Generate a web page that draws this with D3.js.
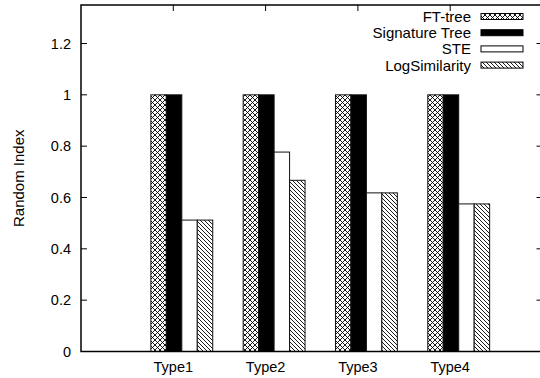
<!DOCTYPE html>
<html>
<head>
<meta charset="utf-8">
<script src="https://cdn.jsdelivr.net/npm/d3@7"></script>
<style>
  body { margin: 0; background: #fff; }
  svg { display: block; font-family: "Liberation Sans", Arial, sans-serif; }
</style>
</head>
<body>
<svg id="chart" width="540" height="378"></svg>
<script>
const categories = ['Type1', 'Type2', 'Type3', 'Type4'];
const series = ['FT-tree', 'Signature Tree', 'STE', 'LogSimilarity'];
const ftTree = [1, 1, 1, 1];
const signatureTree = [1, 1, 1, 1];
const ste = [0.512, 0.777, 0.618, 0.575];
const logSimilarity = [0.512, 0.667, 0.618, 0.575];
const yTicks = [0, 0.2, 0.4, 0.6, 0.8, 1, 1.2];

const values = [ftTree, signatureTree, ste, logSimilarity];

const svg = d3.select('#chart');
const pLeft = 81, pRight = 542.5, pTop = 5, pBottom = 351.5;

const x = d3.scaleLinear().domain([-1, 4]).range([pLeft, pRight]);
const y = d3.scaleLinear().domain([0, 1.35]).range([pBottom, pTop]);
// bar offsets inside a category, in x units
const inner = d3.scaleBand().domain(series).range([-0.243, -0.243 + 4 * 0.1676]);

// patterns
const defs = svg.append('defs');
const cross = defs.append('pattern').attr('id', 'cross')
  .attr('patternUnits', 'userSpaceOnUse').attr('width', 5).attr('height', 5);
cross.append('rect').attr('width', 5).attr('height', 5).attr('fill', '#fff');
cross.append('path').attr('d', 'M0,0L5,5M5,0L0,5M-1,4L1,6M4,-1L6,1M-1,1L1,-1M4,6L6,4')
  .attr('stroke', '#000').attr('stroke-width', 0.9);
const diag = defs.append('pattern').attr('id', 'diag')
  .attr('patternUnits', 'userSpaceOnUse').attr('width', 4).attr('height', 4);
diag.append('rect').attr('width', 4).attr('height', 4).attr('fill', '#fff');
diag.append('path').attr('d', 'M0,0L4,4M-1,3L1,5M3,-1L5,1')
  .attr('stroke', '#000').attr('stroke-width', 0.9);

const fills = ['url(#cross)', '#000', '#fff', 'url(#diag)'];

// bars
const barData = [];
categories.forEach((c, i) => {
  series.forEach((s, j) => barData.push({ i, s, j, v: values[j][i] }));
});
svg.append('g').selectAll('rect').data(barData).enter().append('rect')
  .attr('x', d => x(d.i + inner(d.s)))
  .attr('width', x(inner.bandwidth()) - x(0))
  .attr('y', d => y(d.v))
  .attr('height', d => y(0) - y(d.v))
  .attr('fill', d => fills[d.j])
  .attr('stroke', '#111').attr('stroke-width', 1);

// y ticks (left, and mirrored on right)
const yAxis = svg.append('g');
yTicks.forEach(t => {
  yAxis.append('line').attr('x1', pLeft).attr('x2', pLeft + 6)
    .attr('y1', y(t)).attr('y2', y(t)).attr('stroke', '#000');
  yAxis.append('line').attr('x1', pRight - 6).attr('x2', pRight)
    .attr('y1', y(t)).attr('y2', y(t)).attr('stroke', '#000');
  yAxis.append('text').attr('x', pLeft - 10).attr('y', y(t) + 5)
    .attr('text-anchor', 'end').attr('font-size', 14.5).text(d3.format('')(t));
});

// x ticks (top mirror) and labels
const xAxis = svg.append('g');
categories.forEach((c, i) => {
  xAxis.append('line').attr('x1', x(i)).attr('x2', x(i))
    .attr('y1', pTop).attr('y2', pTop + 6).attr('stroke', '#000');
  xAxis.append('text').attr('x', x(i)).attr('y', pBottom + 20.5)
    .attr('text-anchor', 'middle').attr('font-size', 14.5).text(c);
});

// frame
svg.append('rect').attr('x', pLeft).attr('y', pTop)
  .attr('width', pRight - pLeft).attr('height', pBottom - pTop)
  .attr('fill', 'none').attr('stroke', '#000').attr('stroke-width', 1.5);

// y label
svg.append('text')
  .attr('transform', `translate(23.5,${(pTop + pBottom) / 2}) rotate(-90)`)
  .attr('text-anchor', 'middle').attr('font-size', 15).text('Random Index');

// legend
const legend = svg.append('g');
series.forEach((s, j) => {
  const ly = 16.5 + j * 16.2;
  legend.append('text').attr('x', 471).attr('y', ly + 5.5)
    .attr('text-anchor', 'end').attr('font-size', 15).text(s);
  legend.append('rect').attr('x', 481).attr('y', ly - 3)
    .attr('width', 42).attr('height', 6)
    .attr('fill', fills[j]).attr('stroke', '#000').attr('stroke-width', 1);
});
</script>
</body>
</html>
